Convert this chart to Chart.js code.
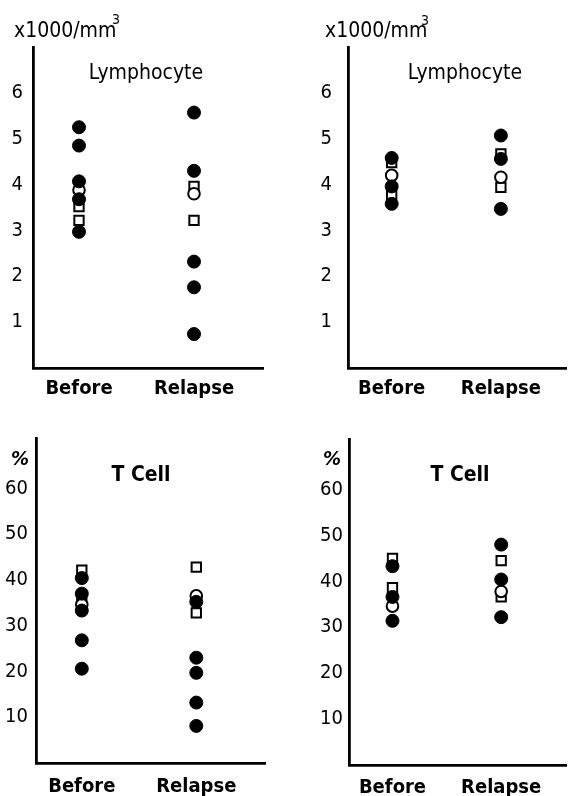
<!DOCTYPE html>
<html>
<head>
<meta charset="utf-8">
<script src="https://cdn.jsdelivr.net/npm/chart.js@4.4.1/dist/chart.umd.min.js"></script>
<style>
  body { margin:0; background:#fff; }
  .panel { position:absolute; }
</style>
</head>
<body>
<div class="panel" style="left:0;top:0;width:290px;height:400px"><canvas id="c1"></canvas></div>
<div class="panel" style="left:290px;top:0;width:285px;height:400px"><canvas id="c2"></canvas></div>
<div class="panel" style="left:0;top:400px;width:290px;height:396px"><canvas id="c3"></canvas></div>
<div class="panel" style="left:290px;top:400px;width:285px;height:396px"><canvas id="c4"></canvas></div>
<script>
// categories and tick labels
const categories = ['Before', 'Relapse'];
const lymphTicks = [1, 2, 3, 4, 5, 6];
const tcellTicks = [10, 20, 30, 40, 50, 60];

// top left: lymphocyte (x1000/mm3)
const lymA_filled_before = [5.25, 4.85, 4.07, 3.68, 2.97];
const lymA_filled_relapse = [5.57, 4.30, 2.32, 1.76, 0.74];
const lymA_open_before = [3.88];
const lymA_open_relapse = [3.80];
const lymA_square_before = [3.52, 3.22];
const lymA_square_relapse = [3.96, 3.22];

// top right: lymphocyte
const lymB_filled_before = [4.58, 3.96, 3.58];
const lymB_filled_relapse = [5.07, 4.56, 3.47];
const lymB_open_before = [4.20];
const lymB_open_relapse = [4.16];
const lymB_square_before = [4.48, 3.78];
const lymB_square_relapse = [4.67, 3.94];

// bottom left: T cell (%)
const tA_filled_before = [40.4, 37.0, 33.3, 26.8, 20.6];
const tA_filled_relapse = [35.2, 23.0, 19.7, 13.2, 8.1];
const tA_open_before = [34.6];
const tA_open_relapse = [36.5];
const tA_square_before = [42.1, 35.5];
const tA_square_relapse = [42.8, 32.8];

// bottom right: T cell (%)
const tB_filled_before = [43.3, 36.6, 31.4];
const tB_filled_relapse = [48.0, 40.4, 32.2];
const tB_open_before = [34.6];
const tB_open_relapse = [37.8];
const tB_square_before = [45.0, 38.6];
const tB_square_relapse = [44.5, 36.6];

const FONT = "'DejaVu Sans Condensed', sans-serif";

function pts(before, relapse) {
  return before.map(v => ({x: 0, y: v})).concat(relapse.map(v => ({x: 1, y: v})));
}

// draws titles / unit text at fixed spots
const textPlugin = {
  id: 'texts',
  afterDraw(chart, args, opts) {
    const ctx = chart.ctx;
    ctx.save();
    ctx.fillStyle = '#000';
    ctx.textBaseline = 'middle';
    (opts.items || []).forEach(it => {
      ctx.font = it.font;
      ctx.textAlign = it.align || 'left';
      ctx.fillText(it.text, it.x, it.y);
    });
    ctx.restore();
  }
};

function makeChart(id, p) {
  const datasets = [
    {data: pts(p.filled[0], p.filled[1]), pointStyle: 'circle', pointRadius: 6.5,
     backgroundColor: '#000', borderColor: '#000', borderWidth: 1},
    {data: pts(p.open[0], p.open[1]), pointStyle: 'circle', pointRadius: 5.8,
     backgroundColor: '#fff', borderColor: '#000', borderWidth: 2},
    {data: pts(p.square[0], p.square[1]), pointStyle: 'rect', pointRadius: 6.6,
     backgroundColor: '#fff', borderColor: '#000', borderWidth: 2}
  ];
  return new Chart(document.getElementById(id), {
    type: 'scatter',
    data: {datasets: datasets},
    plugins: [textPlugin],
    options: {
      responsive: true,
      maintainAspectRatio: false,
      animation: false,
      layout: {padding: {left: 0, top: p.top, right: p.right, bottom: 0}},
      plugins: {
        legend: {display: false},
        tooltip: {enabled: false},
        texts: {items: p.texts}
      },
      scales: {
        x: {
          type: 'linear', min: -0.4, max: 1.6,
          afterBuildTicks: s => { s.ticks = categories.map((c, i) => ({value: i})); },
          afterFit: s => { s.height = p.xh; },
          grid: {display: false, drawTicks: false},
          border: {display: true, color: '#000', width: 2.8},
          ticks: {
            callback: v => categories[v],
            color: '#000', padding: p.xpad, maxRotation: 0, autoSkip: false,
            font: {family: FONT, size: 20, weight: 'bold'}
          }
        },
        y: {
          min: 0, max: p.max,
          afterBuildTicks: s => { s.ticks = p.ticks.map(v => ({value: v})); },
          afterFit: s => { s.width = p.yw; },
          grid: {display: false, drawTicks: false},
          border: {display: true, color: '#000', width: 2.8},
          ticks: {
            color: '#000', padding: p.ypad, autoSkip: false,
            font: {family: FONT, size: 20}
          }
        }
      }
    }
  });
}

const titleFont = "21px " + FONT;
const unitFont = "21px " + FONT;
const supFont = "14px " + FONT;

makeChart('c1', {
  filled: [lymA_filled_before, lymA_filled_relapse],
  open: [lymA_open_before, lymA_open_relapse],
  square: [lymA_square_before, lymA_square_relapse],
  max: 7, ticks: lymphTicks, top: 47, right: 27, yw: 33, xh: 32, xpad: 9, ypad: 10,
  texts: [
    {text: 'Lymphocyte', x: 146, y: 74, align: 'center', font: titleFont},
    {text: 'x1000/mm', x: 14, y: 32, font: unitFont},
    {text: '3', x: 112, y: 20, font: supFont}
  ]
});

makeChart('c2', {
  filled: [lymB_filled_before, lymB_filled_relapse],
  open: [lymB_open_before, lymB_open_relapse],
  square: [lymB_square_before, lymB_square_relapse],
  max: 7, ticks: lymphTicks, top: 47, right: 0, yw: 58, xh: 32, xpad: 9, ypad: 16,
  texts: [
    {text: 'Lymphocyte', x: 175, y: 74, align: 'center', font: titleFont},
    {text: 'x1000/mm', x: 35, y: 32, font: unitFont},
    {text: '3', x: 131, y: 21, font: supFont}
  ]
});

makeChart('c3', {
  filled: [tA_filled_before, tA_filled_relapse],
  open: [tA_open_before, tA_open_relapse],
  square: [tA_square_before, tA_square_relapse],
  max: 71, ticks: tcellTicks, top: 38, right: 25, yw: 36, xh: 33, xpad: 12, ypad: 8,
  texts: [
    {text: 'T Cell', x: 141, y: 76, align: 'center', font: 'bold 21px ' + FONT},
    {text: '%', x: 20, y: 60, align: 'center', font: 'italic bold 20px ' + FONT}
  ]
});

makeChart('c4', {
  filled: [tB_filled_before, tB_filled_relapse],
  open: [tB_open_before, tB_open_relapse],
  square: [tB_square_before, tB_square_relapse],
  max: 71, ticks: tcellTicks, top: 39, right: 0, yw: 59, xh: 31, xpad: 11, ypad: 6,
  texts: [
    {text: 'T Cell', x: 170, y: 76, align: 'center', font: 'bold 21px ' + FONT},
    {text: '%', x: 42, y: 60, align: 'center', font: 'italic bold 20px ' + FONT}
  ]
});
</script>
</body>
</html>
